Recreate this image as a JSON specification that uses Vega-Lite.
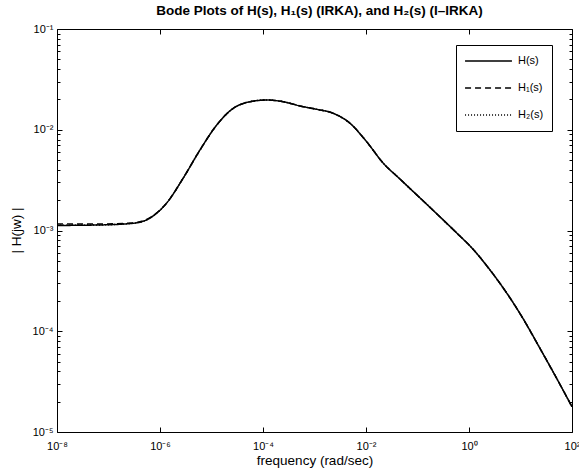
{
  "$schema": "https://vega.github.io/schema/vega-lite/v6.json",
  "width": 515,
  "height": 403,
  "autosize": {"type": "none"},
  "padding": {"left": 57, "top": 29, "right": 7, "bottom": 41},
  "background": "white",
  "config": {"view": {"stroke": null}, "font": "Liberation Sans"},
  "title": {"text": "Bode Plots of H(s), H₁(s) (IRKA), and H₂(s) (I–IRKA)", "fontSize": 13.5, "fontWeight": "bold", "font": "Liberation Sans", "anchor": "middle", "offset": 6, "dx": 5, "color": "black"},
  "datasets": {
    "bode": [
      {"freq": 1e-8, "mag": 0.001122, "series": "H(s)"},
      {"freq": 6.84e-8, "mag": 0.001135, "series": "H(s)"},
      {"freq": 2.99e-7, "mag": 0.001178, "series": "H(s)"},
      {"freq": 6.40e-7, "mag": 0.00133, "series": "H(s)"},
      {"freq": 1.349e-6, "mag": 0.001875, "series": "H(s)"},
      {"freq": 2.83e-6, "mag": 0.00332, "series": "H(s)"},
      {"freq": 5.98e-6, "mag": 0.0063, "series": "H(s)"},
      {"freq": 1.262e-5, "mag": 0.01114, "series": "H(s)"},
      {"freq": 2.65e-5, "mag": 0.01633, "series": "H(s)"},
      {"freq": 5.60e-5, "mag": 0.01897, "series": "H(s)"},
      {"freq": 1.18e-4, "mag": 0.01972, "series": "H(s)"},
      {"freq": 2.48e-4, "mag": 0.01897, "series": "H(s)"},
      {"freq": 5.22e-4, "mag": 0.01722, "series": "H(s)"},
      {"freq": 1.104e-3, "mag": 0.01596, "series": "H(s)"},
      {"freq": 2.32e-3, "mag": 0.01455, "series": "H(s)"},
      {"freq": 4.89e-3, "mag": 0.01159, "series": "H(s)"},
      {"freq": 1.03e-2, "mag": 0.0076, "series": "H(s)"},
      {"freq": 2.17e-2, "mag": 0.00465, "series": "H(s)"},
      {"freq": 4.57e-2, "mag": 0.00324, "series": "H(s)"},
      {"freq": 0.2028, "mag": 0.001579, "series": "H(s)"},
      {"freq": 0.577, "mag": 0.000945, "series": "H(s)"},
      {"freq": 1.212, "mag": 0.000648, "series": "H(s)"},
      {"freq": 2.559, "mag": 0.0004055, "series": "H(s)"},
      {"freq": 5.395, "mag": 0.0002397, "series": "H(s)"},
      {"freq": 11.32, "mag": 0.0001324, "series": "H(s)"},
      {"freq": 23.93, "mag": 0.0000675, "series": "H(s)"},
      {"freq": 50.47, "mag": 0.000034, "series": "H(s)"},
      {"freq": 100, "mag": 0.00001782, "series": "H(s)"},
      {"freq": 1e-8, "mag": 0.00116, "series": "H₁(s)"},
      {"freq": 6.84e-8, "mag": 0.00116, "series": "H₁(s)"},
      {"freq": 2.99e-7, "mag": 0.00119, "series": "H₁(s)"},
      {"freq": 6.40e-7, "mag": 0.00134, "series": "H₁(s)"},
      {"freq": 1.349e-6, "mag": 0.001875, "series": "H₁(s)"},
      {"freq": 2.83e-6, "mag": 0.00332, "series": "H₁(s)"},
      {"freq": 5.98e-6, "mag": 0.0063, "series": "H₁(s)"},
      {"freq": 1.262e-5, "mag": 0.01114, "series": "H₁(s)"},
      {"freq": 2.65e-5, "mag": 0.01633, "series": "H₁(s)"},
      {"freq": 5.60e-5, "mag": 0.01897, "series": "H₁(s)"},
      {"freq": 1.18e-4, "mag": 0.01972, "series": "H₁(s)"},
      {"freq": 2.48e-4, "mag": 0.01897, "series": "H₁(s)"},
      {"freq": 5.22e-4, "mag": 0.01722, "series": "H₁(s)"},
      {"freq": 1.104e-3, "mag": 0.01596, "series": "H₁(s)"},
      {"freq": 2.32e-3, "mag": 0.01455, "series": "H₁(s)"},
      {"freq": 4.89e-3, "mag": 0.01159, "series": "H₁(s)"},
      {"freq": 1.03e-2, "mag": 0.0076, "series": "H₁(s)"},
      {"freq": 2.17e-2, "mag": 0.00465, "series": "H₁(s)"},
      {"freq": 4.57e-2, "mag": 0.00324, "series": "H₁(s)"},
      {"freq": 0.2028, "mag": 0.001579, "series": "H₁(s)"},
      {"freq": 0.577, "mag": 0.000945, "series": "H₁(s)"},
      {"freq": 1.212, "mag": 0.000648, "series": "H₁(s)"},
      {"freq": 2.559, "mag": 0.0004055, "series": "H₁(s)"},
      {"freq": 5.395, "mag": 0.0002397, "series": "H₁(s)"},
      {"freq": 11.32, "mag": 0.0001324, "series": "H₁(s)"},
      {"freq": 23.93, "mag": 0.0000675, "series": "H₁(s)"},
      {"freq": 50.47, "mag": 0.000034, "series": "H₁(s)"},
      {"freq": 100, "mag": 0.00001782, "series": "H₁(s)"},
      {"freq": 1e-8, "mag": 0.001125, "series": "H₂(s)"},
      {"freq": 6.84e-8, "mag": 0.001137, "series": "H₂(s)"},
      {"freq": 2.99e-7, "mag": 0.00118, "series": "H₂(s)"},
      {"freq": 6.40e-7, "mag": 0.00133, "series": "H₂(s)"},
      {"freq": 1.349e-6, "mag": 0.001875, "series": "H₂(s)"},
      {"freq": 2.83e-6, "mag": 0.00332, "series": "H₂(s)"},
      {"freq": 5.98e-6, "mag": 0.0063, "series": "H₂(s)"},
      {"freq": 1.262e-5, "mag": 0.01114, "series": "H₂(s)"},
      {"freq": 2.65e-5, "mag": 0.01633, "series": "H₂(s)"},
      {"freq": 5.60e-5, "mag": 0.01897, "series": "H₂(s)"},
      {"freq": 1.18e-4, "mag": 0.01972, "series": "H₂(s)"},
      {"freq": 2.48e-4, "mag": 0.01897, "series": "H₂(s)"},
      {"freq": 5.22e-4, "mag": 0.01722, "series": "H₂(s)"},
      {"freq": 1.104e-3, "mag": 0.01596, "series": "H₂(s)"},
      {"freq": 2.32e-3, "mag": 0.01455, "series": "H₂(s)"},
      {"freq": 4.89e-3, "mag": 0.01159, "series": "H₂(s)"},
      {"freq": 1.03e-2, "mag": 0.0076, "series": "H₂(s)"},
      {"freq": 2.17e-2, "mag": 0.00465, "series": "H₂(s)"},
      {"freq": 4.57e-2, "mag": 0.00324, "series": "H₂(s)"},
      {"freq": 0.2028, "mag": 0.001579, "series": "H₂(s)"},
      {"freq": 0.577, "mag": 0.000945, "series": "H₂(s)"},
      {"freq": 1.212, "mag": 0.000648, "series": "H₂(s)"},
      {"freq": 2.559, "mag": 0.0004055, "series": "H₂(s)"},
      {"freq": 5.395, "mag": 0.0002397, "series": "H₂(s)"},
      {"freq": 11.32, "mag": 0.0001324, "series": "H₂(s)"},
      {"freq": 23.93, "mag": 0.0000675, "series": "H₂(s)"},
      {"freq": 50.47, "mag": 0.000034, "series": "H₂(s)"},
      {"freq": 100, "mag": 0.00001782, "series": "H₂(s)"}
    ]
  },
  "data": {"name": "bode"},
  "layer": [
    {
      "mark": {"type": "line", "color": "black", "strokeWidth": 1.5, "interpolate": "monotone"},
      "encoding": {
        "x": {"field": "freq", "type": "quantitative", "scale": {"type": "log", "domain": [1e-8, 100], "nice": false},
          "axis": {"orient": "bottom", "values": [1e-8, 1e-6, 1e-4, 1e-2, 1, 100], "grid": false, "tickSize": -5, "tickColor": "black", "domainColor": "black", "labelPadding": 13, "labelFontSize": 11, "labelColor": "black", "labelFont": "Liberation Sans",
            "labelExpr": "'10' + (round(log(datum.value)/LN10) < 0 ? '⁻' : '') + substring('⁰¹²³⁴⁵⁶⁷⁸⁹', abs(round(log(datum.value)/LN10)), abs(round(log(datum.value)/LN10)) + 1)",
            "title": "frequency (rad/sec)", "titleFontSize": 13.5, "titleFontWeight": "normal", "titleColor": "black", "titleFont": "Liberation Sans", "titleBaseline": "alphabetic", "titleY": 32, "labelFlush": false}},
        "y": {"field": "mag", "type": "quantitative", "scale": {"type": "log", "domain": [1e-5, 0.1], "nice": false},
          "axis": {"orient": "left", "values": [1e-5, 1e-4, 1e-3, 1e-2, 0.1], "grid": false, "tickSize": -5, "tickColor": "black", "domainColor": "black", "labelPadding": 9, "labelFontSize": 11, "labelColor": "black", "labelFont": "Liberation Sans",
            "labelExpr": "'10' + (round(log(datum.value)/LN10) < 0 ? '⁻' : '') + substring('⁰¹²³⁴⁵⁶⁷⁸⁹', abs(round(log(datum.value)/LN10)), abs(round(log(datum.value)/LN10)) + 1)",
            "title": "| H(jw) |", "titleFontSize": 13.5, "titleFontWeight": "normal", "titleColor": "black", "titleFont": "Liberation Sans", "titleBaseline": "alphabetic", "titleX": -37, "titleY": 201, "labelFlush": false}},
        "strokeDash": {"field": "series", "type": "nominal",
          "scale": {"domain": ["H(s)", "H₁(s)", "H₂(s)"], "range": [[1, 0], [6, 4], [1, 2]]},
          "legend": {"orient": "none", "legendX": 399, "legendY": 16, "title": null, "strokeColor": "black", "fillColor": "white", "padding": 8, "symbolType": "stroke", "symbolSize": 2200, "clipHeight": 16, "rowPadding": 11, "symbolStrokeWidth": 1.5, "symbolStrokeColor": "black", "labelFontSize": 11, "labelColor": "black", "labelFont": "Liberation Sans", "labelOffset": 5}}
      }
    },
    {
      "mark": {"type": "line", "opacity": 0},
      "encoding": {
        "x": {"field": "freq", "type": "quantitative", "axis": {"orient": "top", "values": [1e-8, 1e-6, 1e-4, 1e-2, 1, 100], "grid": false, "tickSize": -5, "tickColor": "black", "domainColor": "black", "labels": false, "title": null}},
        "y": {"field": "mag", "type": "quantitative", "axis": {"orient": "right", "values": [1e-5, 1e-4, 1e-3, 1e-2, 0.1], "grid": false, "tickSize": -5, "tickColor": "black", "domainColor": "black", "labels": false, "title": null}}
      }
    },
    {
      "mark": {"type": "line", "opacity": 0},
      "encoding": {
        "x": {"field": "freq", "type": "quantitative", "axis": null},
        "y": {"field": "mag", "type": "quantitative", "axis": {"orient": "left", "values": [2e-5, 3e-5, 4e-5, 5e-5, 6e-5, 7e-5, 8e-5, 9e-5, 2e-4, 3e-4, 4e-4, 5e-4, 6e-4, 7e-4, 8e-4, 9e-4, 0.002, 0.003, 0.004, 0.005, 0.006, 0.007, 0.008, 0.009, 0.02, 0.03, 0.04, 0.05, 0.06, 0.07, 0.08, 0.09], "grid": false, "tickSize": -3, "tickColor": "black", "domain": false, "labels": false, "title": null}}
      }
    },
    {
      "mark": {"type": "line", "opacity": 0},
      "encoding": {
        "x": {"field": "freq", "type": "quantitative", "axis": null},
        "y": {"field": "mag", "type": "quantitative", "axis": {"orient": "right", "values": [2e-5, 3e-5, 4e-5, 5e-5, 6e-5, 7e-5, 8e-5, 9e-5, 2e-4, 3e-4, 4e-4, 5e-4, 6e-4, 7e-4, 8e-4, 9e-4, 0.002, 0.003, 0.004, 0.005, 0.006, 0.007, 0.008, 0.009, 0.02, 0.03, 0.04, 0.05, 0.06, 0.07, 0.08, 0.09], "grid": false, "tickSize": -3, "tickColor": "black", "domain": false, "labels": false, "title": null}}
      }
    }
  ],
  "resolve": {"axis": {"x": "independent", "y": "independent"}}
}
